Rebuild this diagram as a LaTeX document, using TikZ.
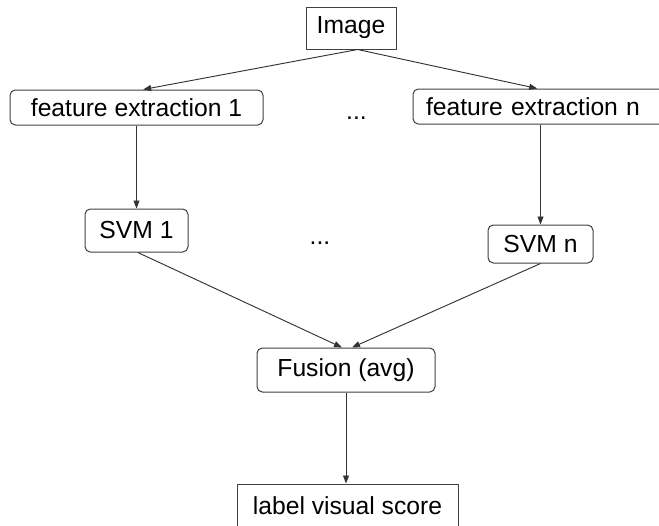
\documentclass[tikz,border=0pt]{standalone}
\usepackage{fontspec}
\setmainfont{Liberation Sans}
\usetikzlibrary{arrows.meta}
\begin{document}
\begin{tikzpicture}[x=0.75pt,y=-0.75pt,
  every node/.style={font=\fontsize{18.5pt}{22pt}\selectfont, inner sep=0pt},
  rbox/.style={draw=black!75, line width=0.75pt, rounded corners=4pt},
  sbox/.style={draw=black!75, line width=0.75pt},
  conn/.style={draw=black!80, line width=0.7pt, -{Triangle[length=6pt,width=4.5pt]}}]
\useasboundingbox (0,0) rectangle (659,525);
\clip (0,0) rectangle (659,525);
\node[sbox, minimum width=67.5pt, minimum height=31.5pt] (img) at (351,28) {Image};
\node[rbox, minimum width=189.75pt, minimum height=26.25pt] (fe1) at (136.5,107.5) {feature extraction 1};
\node[rbox, minimum height=26.25pt, text width=180.75pt, align=left, inner xsep=9.75pt] (fen) at (546.5,106.5) {feature extraction n};
\node (dots1) at (356.5,118.5) {...};
\node[rbox, minimum width=77.25pt, minimum height=32.25pt] (svm1) at (136.5,230.5) {SVM 1};
\node[rbox, minimum width=78.75pt, minimum height=28.5pt] (svmn) at (540.5,244) {SVM n};
\node (dots2) at (320,243) {...};
\node[rbox, minimum width=133.5pt, minimum height=33pt] (fus) at (346,370) {Fusion (avg)};
\node[sbox, minimum width=165.75pt, minimum height=33pt] (lab) at (347.5,506) {label visual score};
\draw[conn] ([xshift=5pt]img.south) -- ([xshift=5pt]fe1.north);
\draw[conn] ([xshift=5pt]img.south) -- ([xshift=-7pt]fen.north);
\draw[conn] (fe1.south) -- (svm1.north);
\draw[conn] (fen.south -| svmn.north) -- (svmn.north);
\draw[conn] ([xshift=1pt]svm1.south) -- ([xshift=-3pt]fus.north);
\draw[conn] (svmn.south) -- ([xshift=4.5pt]fus.north);
\draw[conn] (fus.south) -- (fus.south |- lab.north);
\end{tikzpicture}
\end{document}
